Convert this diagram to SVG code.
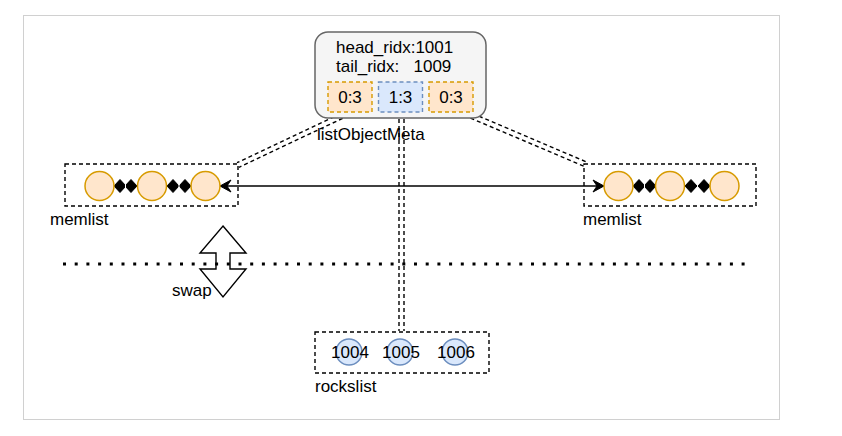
<svg xmlns="http://www.w3.org/2000/svg" width="842" height="436" viewBox="0 0 842 436">
<style>
text{font-family:"Liberation Sans",Arial,sans-serif;font-size:17px;fill:#000}
.dash{fill:none;stroke:#000;stroke-width:1.4;stroke-dasharray:4 3}
.mem{fill:#ffe6cc;stroke:#d79b00;stroke-width:1.5}
.rock{fill:#dae8fc;stroke:#6c8ebf;stroke-width:1.5}
.link{fill:none;stroke:#000;stroke-width:1.4;stroke-dasharray:4 3}
.dia{fill:#000;stroke:#000;stroke-width:1}
</style>
<defs>
<marker id="arr" viewBox="-12 -7 13 14" refX="0" refY="0" markerWidth="13" markerHeight="14" markerUnits="userSpaceOnUse" orient="auto-start-reverse">
<path d="M0,0 L-11,-6 L-7,0 L-11,6 Z" fill="#000" stroke="#000" stroke-width="1"/>
</marker>
</defs>
<rect x="0" y="0" width="842" height="436" fill="#fff"/>
<rect x="23.5" y="15.5" width="756" height="404" fill="none" stroke="#d0d0d0" stroke-width="1"/>

<g id="connectors">
<line x1="220" y1="186" x2="604" y2="186" stroke="#000" stroke-width="1.4" marker-start="url(#arr)" marker-end="url(#arr)"/>
<path class="link" d="M349,115.3 L239,167.3 M347,110.7 L237,162.7"/>
<path class="link" d="M464,115.3 L584,166.3 M466,110.7 L586,161.7"/>
<path class="link" d="M399,112 L399,331 M404,112 L404,331"/>
<g id="diamonds">
<path class="dia" d="M114,186 L120,179.5 L126,186 L120,192.5 Z M125,186 L131,179.5 L137,186 L131,192.5 Z"/>
<path class="dia" d="M167,186 L173,179.5 L179,186 L173,192.5 Z M179,186 L185,179.5 L191,186 L185,192.5 Z"/>
<path class="dia" d="M633,186 L639,179.5 L645,186 L639,192.5 Z M644,186 L650,179.5 L656,186 L650,192.5 Z"/>
<path class="dia" d="M685,186 L691,179.5 L697,186 L691,192.5 Z M698,186 L704,179.5 L710,186 L704,192.5 Z"/>
<path d="M125.5,184 V188 M179,184 V188 M644.5,184 V188 M697.5,184 V188" stroke="#fff" stroke-width="1"/>
</g>
</g>

<g id="meta">
<rect x="315" y="32" width="171" height="86" rx="13" fill="#f5f5f5" stroke="#666" stroke-width="1.5"/>
<text x="336" y="53">head_ridx:1001</text>
<text x="336" y="72" xml:space="preserve">tail_ridx:   1009</text>
<rect x="328" y="82" width="44" height="30" fill="#ffe6cc" stroke="#d79b00" stroke-width="1.4" stroke-dasharray="4 3"/>
<rect x="378.5" y="82" width="44" height="30" fill="#dae8fc" stroke="#6c8ebf" stroke-width="1.4" stroke-dasharray="4 3"/>
<rect x="429" y="82" width="44" height="30" fill="#ffe6cc" stroke="#d79b00" stroke-width="1.4" stroke-dasharray="4 3"/>
<text x="350" y="103" text-anchor="middle">0:3</text>
<text x="400.5" y="103" text-anchor="middle">1:3</text>
<text x="451" y="103" text-anchor="middle">0:3</text>
</g>
<g id="meta-label"><text x="317" y="140">listObjectMeta</text></g>

<g id="memlist-left">
<rect class="dash" x="65" y="164" width="173" height="42"/>
<circle class="mem" cx="99.5" cy="186" r="14.5"/>
<circle class="mem" cx="152" cy="186" r="14.5"/>
<circle class="mem" cx="205.5" cy="186" r="14.5"/>
<text x="50" y="225">memlist</text>
</g>

<g id="memlist-right">
<rect class="dash" x="584" y="164" width="172" height="42"/>
<circle class="mem" cx="618.5" cy="186" r="14.5"/>
<circle class="mem" cx="670" cy="186" r="14.5"/>
<circle class="mem" cx="724.5" cy="186" r="14.5"/>
<text x="583" y="225">memlist</text>
</g>

<g id="swap">
<polygon points="223,226 246,253 230,253 230,269 246,269 223,297 200,269 216,269 216,253 200,253" fill="#fff" stroke="#000" stroke-width="1.4"/>
<text x="172" y="296">swap</text>
</g>
<line x1="63" y1="264" x2="750" y2="264" stroke="#000" stroke-width="3" stroke-dasharray="3 8.7"/>

<g id="rockslist">
<rect class="dash" x="315" y="332" width="174" height="41"/>
<circle class="rock" cx="349" cy="352" r="13"/>
<circle class="rock" cx="400" cy="352" r="13"/>
<circle class="rock" cx="455" cy="352" r="13"/>
<text x="350" y="358" text-anchor="middle">1004</text>
<text x="401" y="358" text-anchor="middle">1005</text>
<text x="456" y="358" text-anchor="middle">1006</text>
<text x="315" y="392">rockslist</text>
</g>
</svg>
